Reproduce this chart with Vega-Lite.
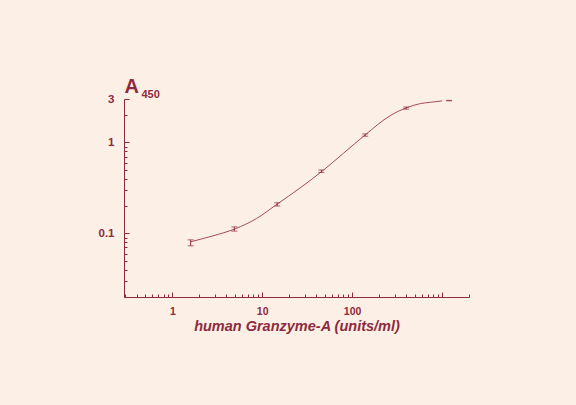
{
  "$schema": "https://vega.github.io/schema/vega-lite/v6.json",
  "width": 345,
  "height": 198,
  "autosize": {"type": "none"},
  "padding": {"left": 124, "top": 99, "right": 107, "bottom": 108},
  "background": "#FCF0E6",
  "config": {
    "view": {"stroke": null},
    "axis": {
      "grid": false,
      "labelFont": "Liberation Sans",
      "titleFont": "Liberation Sans",
      "labelColor": "#8E2A3E",
      "titleColor": "#8E2A3E",
      "tickColor": "#8E2A3E",
      "domainColor": "#8E2A3E",
      "labelFontWeight": "bold"
    }
  },
  "datasets": {
    "curve": [
      {"conc": 1.61, "a450": 0.081},
      {"conc": 2.83, "a450": 0.094},
      {"conc": 4.97, "a450": 0.112},
      {"conc": 8.68, "a450": 0.146},
      {"conc": 14.6, "a450": 0.209},
      {"conc": 26.4, "a450": 0.316},
      {"conc": 46.4, "a450": 0.482},
      {"conc": 80.2, "a450": 0.76},
      {"conc": 140, "a450": 1.21},
      {"conc": 266, "a450": 1.97},
      {"conc": 398, "a450": 2.39},
      {"conc": 574, "a450": 2.67},
      {"conc": 743, "a450": 2.76},
      {"conc": 1009, "a450": 2.86}
    ],
    "points": [
      {"conc": 1.6, "lo": 0.073, "hi": 0.085},
      {"conc": 4.9, "lo": 0.106, "hi": 0.118},
      {"conc": 14.7, "lo": 0.2, "hi": 0.217},
      {"conc": 45.5, "lo": 0.468, "hi": 0.498},
      {"conc": 140, "lo": 1.17, "hi": 1.24},
      {"conc": 400, "lo": 2.32, "hi": 2.45},
      {"conc": 1200, "lo": 2.86, "hi": 2.9}
    ]
  },
  "layer": [
    {
      "data": {"name": "curve"},
      "mark": {"type": "line", "interpolate": "monotone", "color": "#A44A5C", "strokeWidth": 1},
      "encoding": {
        "x": {
          "field": "conc", "type": "quantitative",
          "scale": {"type": "log", "domain": [0.29, 2000], "nice": false},
          "axis": {
            "orient": "bottom",
            "values": [1, 10, 100, 1000],
            "labelExpr": "datum.value == 1000 ? '' : datum.value + ''",
            "tickSize": -5,
            "labelPadding": 14,
            "labelFontSize": 10.5,
            "labelFlush": false,
            "labelOverlap": false,
            "title": "human Granzyme-A (units/ml)",
            "titleFontSize": 14.5,
            "titleFontWeight": "bold",
            "titleFontStyle": "italic",
            "titleX": 172.5,
            "titleY": 33.5,
            "titleAlign": "center",
            "titleBaseline": "alphabetic"
          }
        },
        "y": {
          "field": "a450", "type": "quantitative",
          "scale": {"type": "log", "domain": [0.02, 3], "nice": false},
          "axis": {
            "orient": "left",
            "values": [0.1, 1, 3],
            "labelExpr": "datum.value + ''",
            "tickSize": -5,
            "labelPadding": 15,
            "labelFontSize": 11.5,
            "labelFlush": false,
            "labelOverlap": false,
            "title": "A",
            "titleFontSize": 20,
            "titleFontWeight": "bold",
            "titleAngle": 0,
            "titleX": 0,
            "titleY": -6.5,
            "titleAlign": "left",
            "titleBaseline": "alphabetic"
          }
        }
      }
    },
    {
      "data": {"name": "points"},
      "mark": {"type": "rule", "color": "#8E2A3E", "strokeWidth": 1},
      "encoding": {
        "x": {
          "field": "conc", "type": "quantitative",
          "axis": {
            "orient": "bottom",
            "values": [0.3, 0.4, 0.5, 0.6, 0.7, 0.8, 0.9, 2, 3, 4, 5, 6, 7, 8, 9, 20, 30, 40, 50, 60, 70, 80, 90, 200, 300, 400, 500, 600, 700, 800, 900, 2000],
            "labels": false,
            "domain": false,
            "tickSize": -3,
            "title": null
          }
        },
        "y": {
          "field": "lo", "type": "quantitative",
          "axis": {
            "orient": "left",
            "values": [0.02, 0.03, 0.04, 0.05, 0.06, 0.07, 0.08, 0.09, 0.2, 0.3, 0.4, 0.5, 0.6, 0.7, 0.8, 0.9, 2],
            "labels": false,
            "domain": false,
            "tickSize": -3,
            "title": "450",
            "titleFontSize": 11,
            "titleFontWeight": "bold",
            "titleAngle": 0,
            "titleX": 17,
            "titleY": -2,
            "titleAlign": "left",
            "titleBaseline": "alphabetic"
          }
        },
        "y2": {"field": "hi"}
      }
    },
    {
      "data": {"name": "points"},
      "mark": {"type": "tick", "orient": "horizontal", "size": 6, "thickness": 1, "color": "#8E2A3E"},
      "encoding": {
        "x": {"field": "conc", "type": "quantitative", "axis": null},
        "y": {"field": "lo", "type": "quantitative", "axis": null}
      }
    },
    {
      "data": {"name": "points"},
      "mark": {"type": "tick", "orient": "horizontal", "size": 6, "thickness": 1, "color": "#8E2A3E"},
      "encoding": {
        "x": {"field": "conc", "type": "quantitative", "axis": null},
        "y": {"field": "hi", "type": "quantitative", "axis": null}
      }
    }
  ],
  "resolve": {"axis": {"x": "independent", "y": "independent"}}
}
